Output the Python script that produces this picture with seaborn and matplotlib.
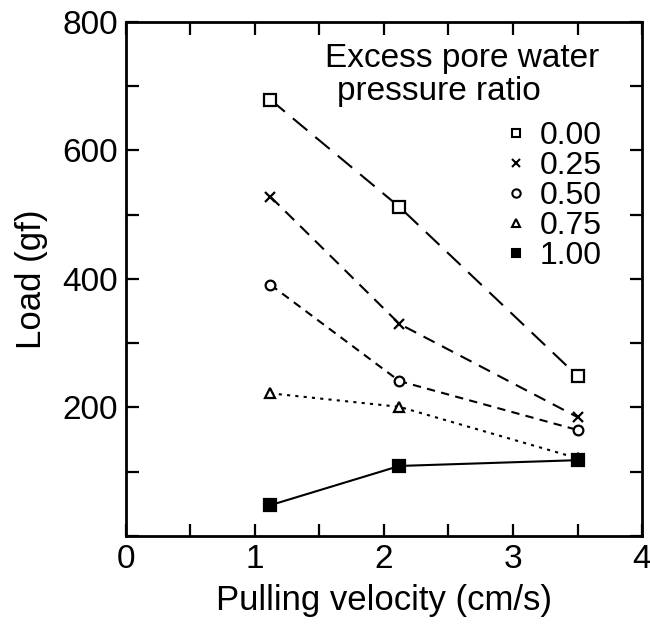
import matplotlib
matplotlib.use("Agg")
import matplotlib.pyplot as plt
from matplotlib.lines import Line2D
from matplotlib.ticker import MultipleLocator
import seaborn as sns
import pandas as pd

# Data
velocity = [1.12, 2.12, 3.5]
ratios = ["0.00", "0.25", "0.50", "0.75", "1.00"]
load_000 = [679, 512, 249]
load_025 = [528, 330, 185]
load_050 = [391, 241, 165]
load_075 = [222, 201, 121]
load_100 = [48, 109, 118]

series = [load_000, load_025, load_050, load_075, load_100]
markers = ["s", "x", "o", "^", "s"]
filled = [False, False, False, False, True]
linestyles = [(0, (9, 5)), (0, (6, 4)), (0, (4, 3)), (0, (1.5, 2.5)), "-"]
msizes = [8, 7, 7, 7, 9]

sns.set_theme(style="ticks")
plt.rcParams["font.family"] = ["Liberation Sans", "DejaVu Sans"]
plt.rcParams["text.color"] = "black"
plt.rcParams["axes.labelcolor"] = "black"
plt.rcParams["xtick.color"] = "black"
plt.rcParams["ytick.color"] = "black"

fig = plt.figure(figsize=(6.5, 6.26), dpi=100)
ax = fig.add_axes([0.1938, 0.1438, 0.7939, 0.8211])

for vals, m, f, ls, ms in zip(series, markers, filled, linestyles, msizes):
    df = pd.DataFrame({"v": velocity, "load": vals})
    sns.lineplot(data=df, x="v", y="load", ax=ax, color="black", linewidth=1.5,
                 linestyle=ls, marker=m, markersize=ms,
                 markerfacecolor=("black" if f else "white"),
                 markeredgecolor="black", markeredgewidth=1.6)

ax.set_xlim(0, 4)
ax.set_ylim(0, 800)
ax.xaxis.set_major_locator(MultipleLocator(1))
ax.xaxis.set_minor_locator(MultipleLocator(0.5))
ax.set_yticks([200, 400, 600, 800])
ax.set_yticks([0, 100, 300, 500, 700], minor=True)
ax.tick_params(which="both", direction="in", top=True, right=True,
               length=9, width=1.6, color="black")
ax.tick_params(which="major", labelsize=24, pad=6, labelcolor="black")
for s in ax.spines.values():
    s.set_linewidth(2)
    s.set_color("black")

ax.set_xlabel("Pulling velocity (cm/s)", fontsize=25, labelpad=6)
ax.set_ylabel("Load (gf)", fontsize=25, labelpad=10)

# legend title
ax.text(0.386, 0.928, "Excess pore water", transform=ax.transAxes, fontsize=24,
        ha="left", va="center")
ax.text(0.409, 0.864, "pressure ratio", transform=ax.transAxes, fontsize=24,
        ha="left", va="center")
handles = [Line2D([], [], linestyle="none", marker=m, markersize=6,
                  markerfacecolor=("black" if f else "white"),
                  markeredgecolor="black", markeredgewidth=1.5)
           for m, f in zip(markers, filled)]
ax.legend(handles, ratios, loc="upper right", bbox_to_anchor=(0.922, 0.807),
          frameon=False, fontsize=23, handlelength=0.5, handletextpad=0.5,
          labelspacing=0.0, borderpad=0, borderaxespad=0)

fig.savefig("out.png", dpi=100)
